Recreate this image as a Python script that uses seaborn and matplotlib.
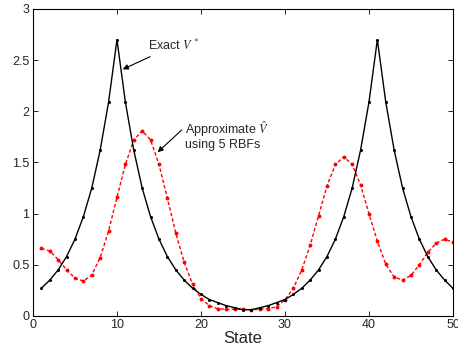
import numpy as np
import pandas as pd
import matplotlib
matplotlib.use("Agg")
import matplotlib.pyplot as plt
import seaborn as sns

states = list(range(1, 51))
exact_v = [0.27, 0.35, 0.45, 0.58, 0.75, 0.97, 1.25, 1.62, 2.09, 2.70,
           2.09, 1.62, 1.25, 0.97, 0.75, 0.58, 0.45, 0.35, 0.27, 0.21,
           0.16, 0.13, 0.10, 0.08, 0.06, 0.06, 0.08, 0.10, 0.13, 0.16,
           0.21, 0.27, 0.35, 0.45, 0.58, 0.75, 0.97, 1.25, 1.62, 2.09,
           2.70, 2.09, 1.62, 1.25, 0.97, 0.75, 0.58, 0.45, 0.35, 0.27]
approx_v = [0.66, 0.635, 0.55, 0.45, 0.37, 0.34, 0.40, 0.57, 0.83, 1.16,
            1.48, 1.72, 1.81, 1.72, 1.48, 1.15, 0.81, 0.525, 0.31, 0.17,
            0.10, 0.07, 0.065, 0.065, 0.065, 0.06, 0.065, 0.07, 0.09, 0.156,
            0.27, 0.45, 0.69, 0.98, 1.27, 1.48, 1.555, 1.48, 1.28, 1.00,
            0.73, 0.505, 0.38, 0.35, 0.395, 0.50, 0.62, 0.71, 0.75, 0.72]
x_ticks = [0, 10, 20, 30, 40, 50]
y_ticks = [0, 0.5, 1, 1.5, 2, 2.5, 3]

sns.set_style("ticks")
plt.rcParams['font.family'] = ['Liberation Sans', 'DejaVu Sans']
plt.rcParams['mathtext.fontset'] = 'stix'
plt.rcParams['xtick.direction'] = 'in'
plt.rcParams['ytick.direction'] = 'in'

df = pd.DataFrame({"State": states, "exact": exact_v, "approx": approx_v})

fig = plt.figure(figsize=(4.58, 3.46), dpi=100)
ax = fig.add_axes([0.072, 0.087, 0.917, 0.887])

sns.lineplot(data=df, x="State", y="approx", ax=ax, color="red",
             linewidth=1.0, marker="o", markersize=2.8,
             markeredgewidth=0, markerfacecolor="red", dashes=False)
ax.lines[-1].set_dashes((2.5, 1.6))
sns.lineplot(data=df, x="State", y="exact", ax=ax, color="black",
             linestyle="-", linewidth=1.0, marker="o", markersize=2.2,
             markeredgewidth=0, markerfacecolor="black")

ax.set_xlim(0, 50)
ax.set_ylim(0, 3)
ax.set_xticks(x_ticks)
ax.set_xticklabels([str(t) for t in x_ticks])
ax.set_yticks(y_ticks)
ax.set_yticklabels(["0", "0.5", "1", "1.5", "2", "2.5", "3"])
ax.tick_params(axis='both', labelsize=9, length=3.5, width=0.7,
               top=True, right=True, pad=2.5)
for s in ax.spines.values():
    s.set_linewidth(0.8)
    s.set_color('black')
ax.set_xlabel("State", fontsize=12, labelpad=0)
ax.set_ylabel("")

ax.annotate(r"Exact $V^*$", xy=(10.68, 2.41), xytext=(13.7, 2.64),
            fontsize=9, va='center', ha='left',
            arrowprops=dict(arrowstyle='-|>', color='black', lw=0.8,
                            mutation_scale=8, shrinkA=0, shrinkB=0))
ax.annotate("Approximate $\\hat{V}$\nusing 5 RBFs", xy=(14.84, 1.60),
            xytext=(18.1, 1.77), fontsize=9, va='center', ha='left',
            linespacing=1.0,
            arrowprops=dict(arrowstyle='-|>', color='black', lw=0.8,
                            mutation_scale=8, shrinkA=0, shrinkB=0,
                            relpos=(0, 0.75)))

fig.savefig("out.png", dpi=100)
